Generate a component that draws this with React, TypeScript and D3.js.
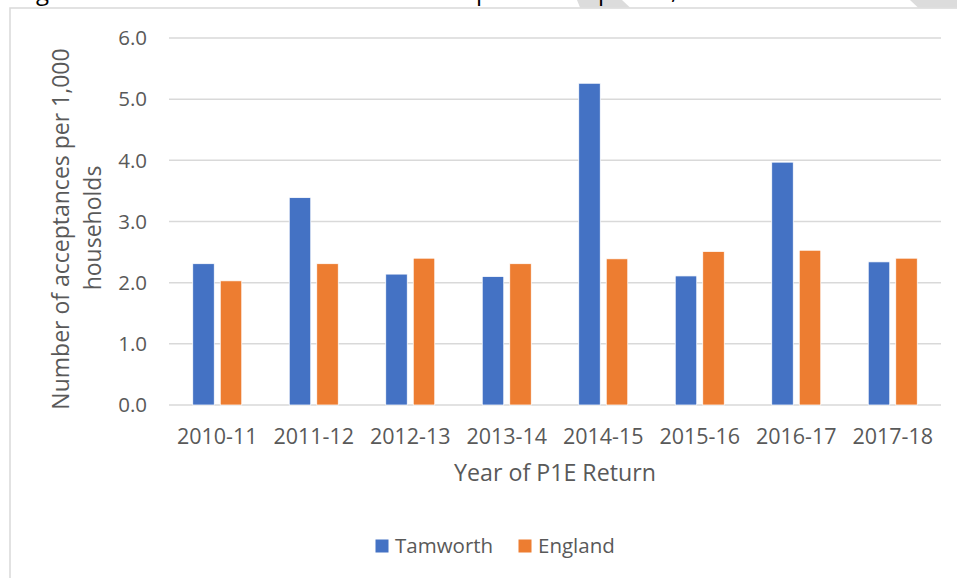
import React from 'react';
import * as d3 from 'd3';

const years = ['2010-11', '2011-12', '2012-13', '2013-14', '2014-15', '2015-16', '2016-17', '2017-18'];
const seriesNames = ['Tamworth', 'England'];
const tamworth = [2.31, 3.39, 2.14, 2.10, 5.26, 2.11, 3.97, 2.34];
const england = [2.03, 2.31, 2.40, 2.31, 2.39, 2.51, 2.53, 2.40];
const yTicks = [0, 1, 2, 3, 4, 5, 6];

const colors = ['#4472C4', '#ED7D31'];
const W = 957, H = 578;
const FONT = '"Open Sans", sans-serif';
const TXT = '#595959';

const App: React.FC = () => {
  // plot area
  const left = 169, right = 941, top = 38, bottom = 405;

  const x = d3.scaleBand<string>().domain(years).range([left, right]).paddingInner(0.492).paddingOuter(0.246);
  const xs = d3.scaleBand<string>().domain(seriesNames).range([0, x.bandwidth()]).paddingInner(0.218);
  const y = d3.scaleLinear().domain([0, 6]).range([bottom, top]);
  const values = [tamworth, england];

  return (
    <svg width={W} height={H} style={{ position: 'absolute', left: 0, top: 0, background: '#fff' }}>
      {/* bits of the page above the chart frame (cut off in the original too) */}
      <polygon points="577,0 622,0 630,7.5 580,7.5" fill="#dcdcdc" />
      <polygon points="910,0 957,0 957,7.5 918,7.5" fill="#dcdcdc" />
      <g fontFamily={FONT} fontSize={24} fill="#000">
        <text x={36} y={0}>g</text>
        <text x={476} y={0}>p</text>
        <text x={598} y={0}>p</text>
        <text x={671} y={-1}>,</text>
      </g>
      <rect x={10} y={8} width={980} height={600} fill="#fff" stroke="#d9d9d9" strokeWidth={1.5} />

      {/* gridlines + y labels */}
      {yTicks.map(t => (
        <g key={t}>
          <line x1={left} x2={right} y1={y(t)} y2={y(t)} stroke="#d9d9d9" strokeWidth={1.5} />
          <text x={147} y={y(t)} dy="0.35em" textAnchor="end" fontFamily={FONT} fontSize={20.5} fill={TXT}>
            {d3.format('.1f')(t)}
          </text>
        </g>
      ))}

      {/* bars */}
      {years.map((yr, i) => (
        <g key={yr} transform={`translate(${x(yr)},0)`}>
          {seriesNames.map((s, j) => (
            <rect key={s} x={xs(s)} y={y(values[j][i])} width={xs.bandwidth()}
              height={y(0) - y(values[j][i])} fill={colors[j]} stroke="#fff" strokeWidth={0.75} />
          ))}
        </g>
      ))}

      {/* x labels */}
      {years.map(yr => (
        <text key={yr} x={(x(yr) as number) + x.bandwidth() / 2} y={443.5} textAnchor="middle"
          fontFamily={FONT} fontSize={21.5} fill={TXT}>{yr}</text>
      ))}
      <text x={(left + right) / 2} y={481} textAnchor="middle" fontFamily={FONT} fontSize={23.2} fill={TXT}>
        Year of P1E Return
      </text>

      {/* y title */}
      <g fontFamily={FONT} fontSize={23} fill={TXT} textAnchor="middle">
        <text transform="translate(61,229) rotate(-90)" dy="0.35em">Number of acceptances per 1,000</text>
        <text transform="translate(93,228) rotate(-90)" dy="0.35em">households</text>
      </g>

      {/* legend */}
      <g fontFamily={FONT} fontSize={20.5} fill={TXT}>
        <rect x={375.5} y={539.5} width={13} height={13} fill={colors[0]} />
        <text x={395} y={546} dy="0.35em">{seriesNames[0]}</text>
        <rect x={518.5} y={539.5} width={13} height={13} fill={colors[1]} />
        <text x={538} y={546} dy="0.35em">{seriesNames[1]}</text>
      </g>
    </svg>
  );
};

export default App;
